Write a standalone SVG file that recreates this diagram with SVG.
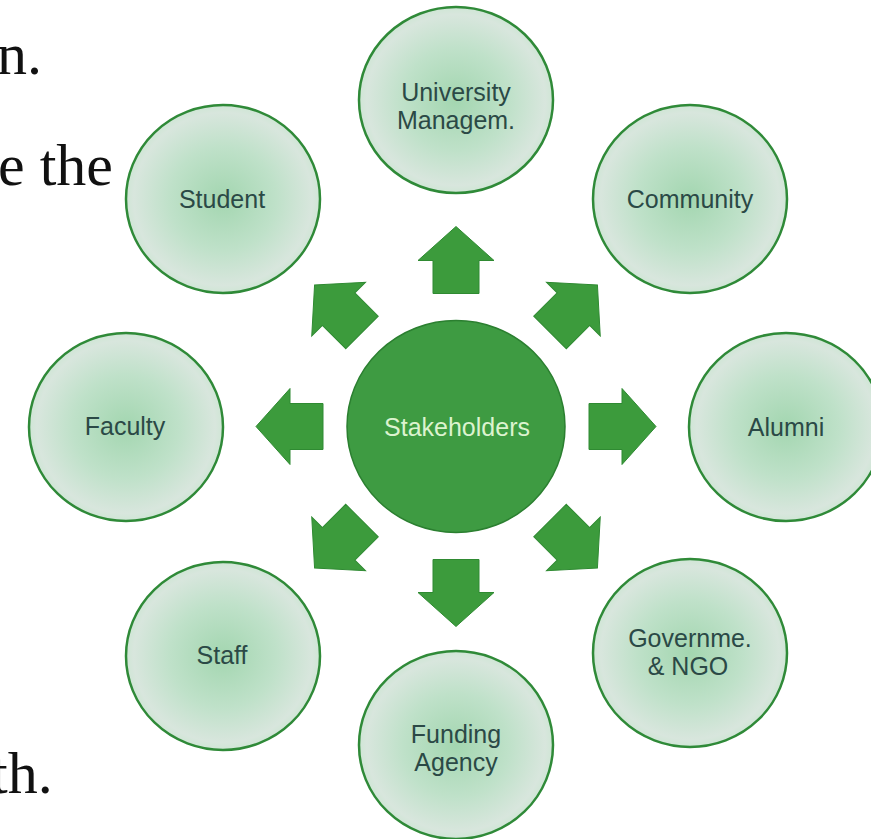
<svg xmlns="http://www.w3.org/2000/svg" width="871" height="839" viewBox="0 0 871 839">
<defs>
<radialGradient id="g" cx="50%" cy="50%" r="50%">
<stop offset="0" stop-color="#a3d6b0"/>
<stop offset="0.55" stop-color="#bfe1c9"/>
<stop offset="0.92" stop-color="#d8e6dd"/>
<stop offset="1" stop-color="#cfe6d5"/>
</radialGradient>
<polygon id="arr" points="133,-23 166,-23 166,-38 200,0 166,38 166,23 133,23"/>
</defs>
<style>
.n{fill:url(#g);stroke:#2f8a38;stroke-width:2.5}
.t{font-family:"Liberation Sans",Arial,sans-serif;font-size:25px;fill:#2b4946;text-anchor:middle}
.s{font-family:"Liberation Serif","Times New Roman",serif;font-size:60px;fill:#111}
.a{fill:#3c9b3c;stroke:#2f8a32;stroke-width:1}
</style>
<rect width="871" height="839" fill="#fff"/>
<text class="s" x="-3" y="74">n.</text>
<text class="s" x="-2" y="185">e the</text>
<text class="s" x="-9" y="793">th.</text>
<g id="connectors">
<use href="#arr" class="a" transform="translate(456,426.5) rotate(0)"/>
<use href="#arr" class="a" transform="translate(456,426.5) rotate(45)"/>
<use href="#arr" class="a" transform="translate(456,426.5) rotate(90)"/>
<use href="#arr" class="a" transform="translate(456,426.5) rotate(135)"/>
<use href="#arr" class="a" transform="translate(456,426.5) rotate(180)"/>
<use href="#arr" class="a" transform="translate(456,426.5) rotate(225)"/>
<use href="#arr" class="a" transform="translate(456,426.5) rotate(270)"/>
<use href="#arr" class="a" transform="translate(456,426.5) rotate(315)"/>
</g>
<g id="stakeholders">
<ellipse cx="456" cy="426.5" rx="109" ry="106" fill="#3e9b42" stroke="#2b7f30" stroke-width="1.5"/>
<text class="t" x="457" y="436" style="fill:#dcf3cf">Stakeholders</text>
</g>
<g id="university">
<ellipse class="n" cx="456" cy="100" rx="97" ry="93"/>
<text class="t" x="456" y="101">University</text>
<text class="t" x="456" y="129">Managem.</text>
</g>
<g id="community">
<ellipse class="n" cx="690" cy="199" rx="97" ry="94"/>
<text class="t" x="690" y="208">Community</text>
</g>
<g id="alumni">
<ellipse class="n" cx="786" cy="427" rx="97" ry="94"/>
<text class="t" x="786" y="436">Alumni</text>
</g>
<g id="government">
<ellipse class="n" cx="690" cy="653" rx="97" ry="94"/>
<text class="t" x="690" y="647">Governme.</text>
<text class="t" x="688" y="675">&amp; NGO</text>
</g>
<g id="funding">
<ellipse class="n" cx="456" cy="745" rx="97" ry="94"/>
<text class="t" x="456" y="743">Funding</text>
<text class="t" x="456" y="771">Agency</text>
</g>
<g id="staff">
<ellipse class="n" cx="223" cy="656" rx="97" ry="94"/>
<text class="t" x="222" y="664">Staff</text>
</g>
<g id="faculty">
<ellipse class="n" cx="126" cy="427" rx="97" ry="94"/>
<text class="t" x="125" y="435">Faculty</text>
</g>
<g id="student">
<ellipse class="n" cx="223" cy="199" rx="97" ry="94"/>
<text class="t" x="222" y="208">Student</text>
</g>
</svg>
